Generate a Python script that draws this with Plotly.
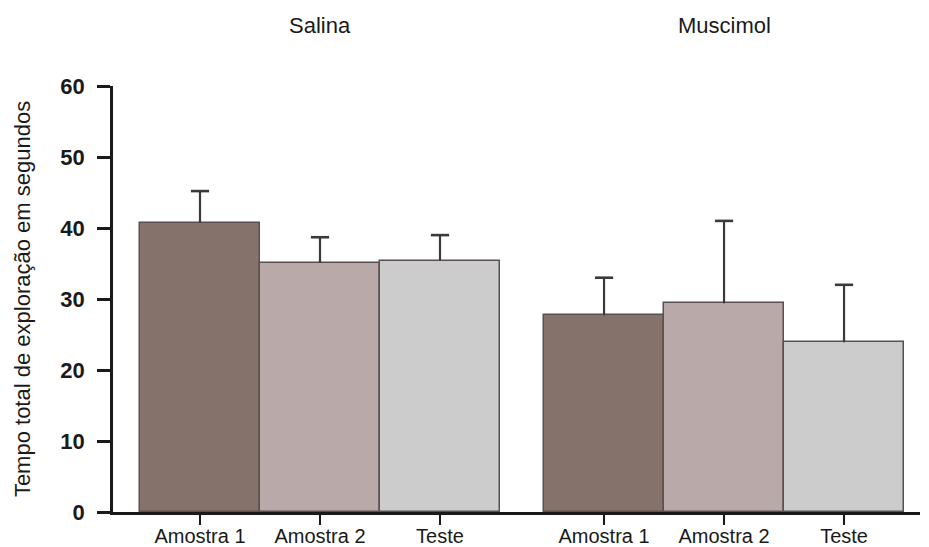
import plotly.graph_objects as go

# Data
groups = ["Salina", "Muscimol"]
phases = ["Amostra 1", "Amostra 2", "Teste"]
means = {
    "Salina": [40.7, 35.1, 35.4],
    "Muscimol": [27.7, 29.4, 23.9],
}
errors = {
    "Salina": [4.5, 3.6, 3.6],
    "Muscimol": [5.3, 11.6, 8.1],
}
phase_colors = ["#84726b", "#b9a9a8", "#cccccc"]

FONT = "Liberation Sans, Arial, sans-serif"
INK = "#1a1a1a"

# Bars of a group touch; groups are separated by a gap (in bar widths)
group_gap = 0.367
x_pos, y_vals, y_err, colors, tick_text = [], [], [], [], []
for gi, g in enumerate(groups):
    for pi, p in enumerate(phases):
        x_pos.append(gi * (len(phases) + group_gap) + pi)
        y_vals.append(means[g][pi])
        y_err.append(errors[g][pi])
        colors.append(phase_colors[pi])
        tick_text.append(p)

fig = go.Figure()
fig.add_trace(go.Bar(
    x=x_pos, y=y_vals, width=1.0,
    marker=dict(color=colors, line=dict(color="#5a5050", width=1.5)),
    error_y=dict(type="data", symmetric=False, array=y_err,
                 arrayminus=[0] * len(y_err),
                 color="#3a3a3a", thickness=2.2, width=0),
    showlegend=False, hoverinfo="skip",
))
# Caps only at the upper end of each whisker
fig.add_trace(go.Scatter(
    x=x_pos, y=[m + e for m, e in zip(y_vals, y_err)],
    mode="markers",
    marker=dict(symbol="line-ew", size=13,
                line=dict(color="#3a3a3a", width=2.6)),
    showlegend=False, hoverinfo="skip",
))

# Group titles above each set of bars
for gi, g in enumerate(groups):
    center = gi * (len(phases) + group_gap) + 1
    fig.add_annotation(x=center, y=1.0, xref="x", yref="paper",
                       yanchor="middle", yshift=61, text=g, showarrow=False,
                       font=dict(family=FONT, size=22, color=INK))

fig.update_layout(
    width=929, height=547,
    margin=dict(l=113, r=9, t=86, b=35),
    paper_bgcolor="white", plot_bgcolor="white",
    bargap=0,
    font=dict(family=FONT, color=INK),
)
fig.update_xaxes(
    range=[-0.725, 6.0], automargin=False,
    tickvals=x_pos, ticktext=tick_text,
    ticks="outside", ticklen=10, tickwidth=2, tickcolor=INK,
    ticklabelstandoff=-6,
    showline=True, linecolor=INK, linewidth=2.5,
    showgrid=False, zeroline=False,
    tickfont=dict(family=FONT, size=20, color=INK),
)
fig.update_yaxes(
    range=[0, 60], automargin=False,
    tickvals=[0, 10, 20, 30, 40, 50, 60],
    ticktext=["<b>%d</b>" % v for v in [0, 10, 20, 30, 40, 50, 60]],
    ticks="outside", ticklen=13, tickwidth=2.5, tickcolor=INK,
    ticklabelstandoff=8,
    showline=True, linecolor=INK, linewidth=2.5,
    showgrid=False, zeroline=False,
    tickfont=dict(family=FONT, size=22, color=INK),
    title=dict(text="Tempo total de exploração em segundos",
               font=dict(family=FONT, size=22, color=INK), standoff=24),
)

fig.write_html("out.html")
